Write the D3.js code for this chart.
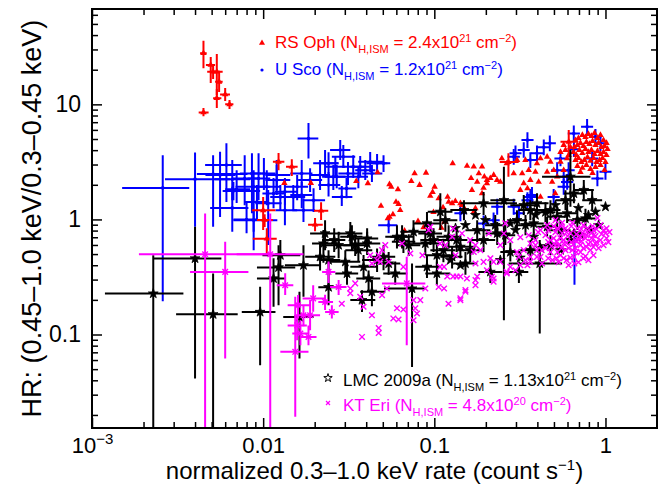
<!DOCTYPE html>
<html>
<head>
<meta charset="utf-8">
<script src="https://cdn.jsdelivr.net/npm/d3@7"></script>
<style>
  body { margin: 0; background: #fff; }
  svg { display: block; }
  text { font-family: "Liberation Sans", Arial, Helvetica, sans-serif; }
</style>
</head>
<body>
<svg id="chart" width="671" height="491"></svg>
<script>
// Axis ranges and labelled ticks
const xDomain = [0.001, 2];
const yDomain = [0.0154, 67.4];
const xMajor = [0.001, 0.01, 0.1, 1];
const xMajorLabels = ["10", "0.01", "0.1", "1"];
const yMajor = [0.1, 1, 10];
const yMajorLabels = ["0.1", "1", "10"];

// Legend
const legendNames = ["RS Oph", "U Sco", "LMC 2009a", "KT Eri"];
const legendNH = ["2.4", "1.2", "1.13", "4.8"];
const legendExp = ["21", "21", "21", "20"];
const colors = ["#ff0000", "#0000ff", "#000000", "#ff00ff"];

// Points with error bars: [rate, HR, rateLo, rateHi, hrLo, hrHi]
const rsOphBars = [
  [0.00448,27.8,0.00428,0.00468,20.6,35.7],
  [0.00494,22.0,0.00463,0.00524,15.3,25.8],
  [0.0051,19.2,0.00471,0.0056,16.6,22.4],
  [0.00536,19.2,0.00497,0.0058,12.05,27.4],
  [0.00553,15.7,0.00524,0.0058,12.8,19.1],
  [0.006,12.2,0.0056,0.0064,10.7,13.9],
  [0.00536,11.3,0.0051,0.0057,9.3,13.6],
  [0.00636,10.0,0.006,0.0067,9.1,10.9],
  [0.00448,8.5,0.0042,0.0048,7.9,9.3],
  [0.01,1.2,0.0086,0.0118,0.81,1.57],
  [0.0102,0.99,0.0092,0.0114,0.86,1.11],
  [0.0105,0.68,0.0087,0.012,0.50,0.84],
  [0.0123,3.17,0.0114,0.0133,2.68,3.77],
  [0.0147,2.87,0.0136,0.0159,2.38,3.34],
  [0.0201,0.90,0.0183,0.0223,0.79,1.03],
  [0.0218,1.19,0.0198,0.024,0.99,1.41],
  [0.271,3.15,0.241,0.311,2.35,3.75],
  [0.61,4.73,0.546,0.685,3.62,5.98]
];
// Points without error bars: [rate, HR]
const rsOphPts = [
  [0.0133,2.07],[0.0190,2.07],[0.0350,2.15],[0.0409,2.06],[0.0466,2.56],[0.0547,2.02],
  [0.0560,1.92],[0.0613,1.82],[0.0734,2.15],[0.0767,2.51],[0.0894,2.54],[0.0820,1.99],
  [0.1004,1.92],[0.0977,1.73],[0.0947,1.60],[0.106,1.52],[0.1196,1.57],[0.1213,1.42],
  [0.0488,1.31],[0.0597,1.42],[0.0618,1.36],[0.0632,1.205],[0.0547,1.05],[0.0573,1.105],
  [0.0535,1.02],[0.0803,0.966],[0.0989,1.157],[0.0865,0.852],[0.067,0.796],[0.1145,0.953],
  [0.110,0.845],[0.1125,1.27],[0.1327,1.44],[0.142,1.38],[0.1497,1.25],[0.1738,1.25],
  [0.170,1.16],[0.190,1.68],[0.178,2.12],[0.182,2.51],[0.196,2.35],[0.203,2.20],
  [0.2223,2.43],[0.2325,2.20],[0.243,2.12],[0.248,3.39],[0.265,3.07],[0.128,3.07],
  [0.1553,2.92],[0.170,2.87],[0.190,2.87],[0.2125,2.28],[0.203,2.06],[0.164,2.28],
  [0.166,1.80],[0.194,1.88],[0.127,1.38],[0.145,1.33],[0.291,2.51],[0.3045,3.28],
  [0.326,2.51],[0.3406,3.28],[0.356,2.68],[0.3896,2.59],[0.398,3.07],[0.417,3.39],
  [0.456,3.50],[0.477,3.17],[0.456,2.59],[0.4985,2.68],[0.35,1.86],[0.333,2.06],
  [0.364,2.20],[0.318,1.80],[0.407,2.12],[0.488,2.12],[0.522,2.35],[0.570,2.68],
  [0.546,3.17],[0.597,3.39],[0.417,1.57],[0.509,1.68],
  [0.668,4.89],[0.695,5.09],[0.733,5.41],[0.764,5.20],[0.795,5.52],[0.828,5.30],
  [0.863,5.63],[0.898,5.09],[0.935,5.41],[0.974,4.89],[1.014,4.61],[0.658,4.25],
  [0.685,4.43],[0.714,4.61],[0.743,4.34],[0.774,4.70],[0.806,4.52],[0.840,4.80],
  [0.874,4.43],[0.911,4.61],[0.948,4.25],[0.987,4.34],[1.028,4.09],[0.650,3.85],
  [0.676,3.62],[0.704,4.01],[0.733,3.77],[0.764,4.09],[0.795,3.85],[0.828,4.01],
  [0.863,3.70],[0.898,3.93],[0.935,3.70],[0.974,3.85],[1.014,3.62],[0.668,3.28],
  [0.695,3.41],[0.723,3.15],[0.753,3.28],[0.785,3.48],[0.817,3.22],[0.851,3.41],
  [0.886,3.15],[0.923,3.28],[0.961,3.41],[1.0,3.15],[0.685,2.91],[0.733,2.80],
  [0.774,2.97],[0.817,2.74],[0.874,2.85],[0.935,2.97],[0.987,2.68],[0.714,2.58],
  [0.840,2.53],[0.584,4.01],[0.609,3.62],[0.624,4.25],[0.546,3.85],[0.570,4.43]
];

const uScoBars = [
  [0.00259,1.88,0.0015,0.0037,0.195,3.62],
  [0.004,2.24,0.00267,0.0064,0.862,3.82],
  [0.0061,2.97,0.00458,0.0075,1.42,4.6],
  [0.0051,2.48,0.0041,0.0081,0.862,3.62],
  [0.0056,2.43,0.0046,0.0069,1.05,3.87],
  [0.0066,2.23,0.0052,0.0084,1.47,3.28],
  [0.0070,1.83,0.006,0.0084,1.39,2.68],
  [0.0066,1.26,0.0049,0.0082,0.78,1.92],
  [0.0078,2.27,0.0066,0.0093,1.33,3.62],
  [0.0080,1.0,0.0067,0.0092,0.76,1.42],
  [0.0086,2.51,0.0073,0.0098,1.13,3.75],
  [0.0088,1.92,0.0069,0.011,0.54,2.68],
  [0.0092,1.42,0.0078,0.0106,1.01,1.99],
  [0.0094,2.27,0.0081,0.011,1.47,3.75],
  [0.0101,2.51,0.0084,0.0118,1.80,3.41],
  [0.0105,1.92,0.009,0.0126,1.33,2.68],
  [0.0107,1.38,0.009,0.0128,0.60,1.80],
  [0.0115,1.68,0.0099,0.0134,1.25,2.29],
  [0.012,2.43,0.0103,0.0144,1.80,3.28],
  [0.0088,0.986,0.0067,0.0121,0.78,1.2],
  [0.0067,1.77,0.0058,0.0096,1.47,2.11],
  [0.0134,1.74,0.0117,0.0158,1.33,2.29],
  [0.0150,1.57,0.0129,0.0176,1.2,1.99],
  [0.0168,1.63,0.0144,0.0194,1.25,2.11],
  [0.0184,5.05,0.0159,0.021,3.39,6.9],
  [0.0241,3.07,0.0211,0.0276,2.43,3.83],
  [0.0257,2.35,0.0221,0.0302,1.80,2.97],
  [0.012,2.20,0.0103,0.0144,1.63,2.97],
  [0.0126,1.57,0.011,0.0144,1.2,1.99],
  [0.0134,1.2,0.0118,0.0158,0.89,1.63],
  [0.0168,2.51,0.0144,0.0194,1.91,3.28],
  [0.0158,1.92,0.0134,0.0183,1.47,2.43],
  [0.0188,2.20,0.016,0.0221,1.73,2.79],
  [0.0197,1.47,0.017,0.023,1.16,1.87],
  [0.0172,1.2,0.0148,0.0201,0.95,1.53],
  [0.0215,2.43,0.0188,0.0246,1.80,3.28],
  [0.023,3.07,0.0196,0.0275,2.33,4.01],
  [0.0241,1.99,0.021,0.0282,1.58,2.58],
  [0.0269,2.35,0.023,0.0314,1.87,2.97],
  [0.0282,4.01,0.0246,0.0323,3.28,4.89],
  [0.0294,3.50,0.0252,0.0345,2.80,4.43],
  [0.0313,2.51,0.0275,0.0369,1.99,3.15],
  [0.0336,2.87,0.0289,0.0395,2.29,3.62],
  [0.0360,2.35,0.0313,0.041,1.87,2.91],
  [0.0395,2.68,0.0345,0.0452,2.2,3.28],
  [0.0422,3.17,0.0359,0.0503,2.58,3.85],
  [0.0463,3.07,0.0402,0.0532,2.53,3.70],
  [0.0505,3.07,0.0434,0.0553,2.58,3.62],
  [0.0432,2.51,0.0379,0.0497,2.11,2.97],
  [0.0307,1.86,0.0275,0.035,1.53,2.29],
  [0.0288,1.57,0.0252,0.0332,1.31,1.95],
  [0.0541,0.892,0.047,0.0608,0.76,1.05],
  [0.0369,2.87,0.0323,0.0422,2.33,3.55],
  [0.0264,2.87,0.023,0.0302,2.29,3.55],
  [0.298,3.75,0.275,0.323,3.2,4.39],
  [0.333,4.01,0.307,0.361,3.43,4.69],
  [0.350,4.89,0.323,0.38,4.18,5.72],
  [0.398,3.75,0.367,0.432,3.2,4.39],
  [0.436,4.24,0.402,0.473,3.62,4.96],
  [0.473,4.59,0.436,0.513,3.92,5.37],
  [0.522,2.68,0.481,0.566,2.29,3.14],
  [0.570,2.35,0.525,0.618,2.01,2.75],
  [0.653,5.59,0.602,0.709,4.78,6.54],
  [0.781,6.38,0.72,0.847,5.45,7.46],
  [0.874,5.23,0.806,0.948,4.47,6.12],
  [0.935,4.59,0.862,1.014,3.92,5.37],
  [1.0,2.59,0.922,1.085,2.21,3.03],
  [0.836,3.39,0.771,0.907,2.9,3.97],
  [0.570,1.92,0.525,0.618,1.64,2.25],
  [0.597,2.12,0.55,0.648,1.81,2.48],
  [0.372,1.63,0.343,0.404,1.39,1.91],
  [0.350,1.47,0.323,0.38,1.26,1.72],
  [0.498,1.57,0.459,0.54,1.34,1.84],
  [0.291,3.50,0.268,0.316,2.99,4.1],
  [0.364,3.28,0.335,0.395,2.8,3.84],
  [0.897,2.27,0.827,0.973,1.94,2.66],
  [0.546,3.39,0.503,0.592,2.9,3.97],
  [0.609,2.68,0.561,0.661,2.29,3.14],
  [0.654,4.08,0.603,0.71,3.49,4.77],
  [0.142,1.13,0.131,0.154,0.966,1.32],
  [0.233,1.29,0.215,0.253,1.1,1.51],
  [0.291,1.29,0.268,0.316,1.1,1.51],
  [0.312,1.13,0.288,0.339,0.966,1.32],
  [0.222,0.986,0.205,0.241,0.843,1.15],
  [0.364,1.57,0.335,0.395,1.34,1.84],
  [0.194,0.924,0.179,0.21,0.79,1.08],
  [0.659,0.661,0.607,0.715,0.27,0.78]
];

const lmcBars = [
  [0.00228,0.227,0.00119,0.00342,0.005,0.489],
  [0.004,0.458,0.00228,0.0057,0.0414,0.862],
  [0.0051,0.150,0.0031,0.0071,0.005,0.339],
  [0.0096,0.157,0.0075,0.0118,0.054,0.26],
  [0.0115,0.307,0.0092,0.0134,0.174,0.46],
  [0.0123,0.383,0.0092,0.0154,0.18,0.598],
  [0.0172,0.40,0.0134,0.0215,0.213,0.598],
  [0.0163,0.142,0.0131,0.0197,0.062,0.235],
  [0.023,0.756,0.0188,0.0282,0.54,0.986],
  [0.026,0.661,0.0221,0.0302,0.52,0.84],
  [0.0215,0.473,0.0176,0.0264,0.36,0.63],
  [0.0241,0.443,0.0211,0.0282,0.35,0.54],
  [0.0241,0.258,0.021,0.0282,0.18,0.36],
  [0.0126,0.489,0.0099,0.0165,0.36,0.661],
  [0.0225,0.618,0.0193,0.0269,0.42,0.81],
  [0.0276,0.598,0.023,0.033,0.46,0.78],
  [0.0302,0.428,0.0246,0.0369,0.33,0.54],
  [0.0309,0.339,0.0264,0.0359,0.27,0.43],
  [0.0330,0.706,0.0282,0.038,0.54,0.89],
  [0.0360,0.541,0.0302,0.0434,0.43,0.69],
  [0.0386,0.387,0.0323,0.0465,0.30,0.49],
  [0.0405,0.618,0.0329,0.0483,0.49,0.78],
  [0.0413,0.307,0.035,0.0483,0.243,0.36],
  [0.0463,0.443,0.0378,0.0553,0.35,0.56],
  [0.0505,0.473,0.0422,0.0591,0.362,0.598],
  [0.0541,0.414,0.046,0.0633,0.33,0.52],
  [0.0432,0.235,0.0369,0.0517,0.176,0.297],
  [0.0378,0.199,0.0323,0.0452,0.157,0.243],
  [0.0591,0.339,0.0503,0.0695,0.27,0.43],
  [0.0648,0.706,0.0553,0.0758,0.56,0.89],
  [0.0741,0.251,0.0508,0.0886,0.0523,0.414],
  [0.0886,0.618,0.0749,0.1084,0.49,0.78],
  [0.099,0.661,0.0828,0.119,0.52,0.84],
  [0.1035,0.489,0.0886,0.124,0.40,0.60],
  [0.113,0.541,0.0948,0.1327,0.425,0.68],
  [0.127,0.473,0.1084,0.146,0.375,0.585],
  [0.142,0.578,0.116,0.174,0.46,0.73],
  [0.1035,0.339,0.0886,0.124,0.27,0.43],
  [0.0906,0.387,0.0774,0.1084,0.31,0.49],
  [0.0709,0.598,0.0602,0.0828,0.48,0.745],
  [0.0323,0.756,0.0275,0.038,0.60,0.95],
  [0.0345,0.598,0.0294,0.0405,0.48,0.745],
  [0.0405,0.683,0.0345,0.047,0.54,0.84],
  [0.066,0.639,0.0565,0.0774,0.51,0.81],
  [0.0756,0.78,0.0633,0.0911,0.62,0.986],
  [0.0605,0.706,0.0517,0.0706,0.56,0.89],
  [0.0906,0.924,0.0759,0.1084,0.73,1.16],
  [0.0948,0.756,0.0806,0.111,0.60,0.95],
  [0.1084,1.165,0.0915,0.1276,0.81,1.69],
  [0.116,0.986,0.0986,0.1363,0.78,1.25],
  [0.1212,0.706,0.103,0.142,0.56,0.89],
  [0.255,1.47,0.2126,0.2977,0.133,2.87],
  [0.333,1.33,0.278,0.39,1.09,1.63],
  [0.364,1.205,0.31,0.428,0.986,1.47],
  [0.398,1.38,0.341,0.465,1.09,1.69],
  [0.194,1.38,0.142,0.304,1.09,1.73],
  [0.149,1.205,0.124,0.178,0.986,1.47],
  [0.624,2.35,0.426,0.817,1.29,4.01],
  [0.413,0.414,0.272,0.558,0.102,0.661],
  [0.312,0.35,0.272,0.354,0.28,0.43],
  [0.2125,0.35,0.181,0.25,0.28,0.44],
  [0.135,0.661,0.116,0.156,0.52,0.81],
  [0.162,0.541,0.138,0.19,0.425,0.66],
  [0.194,0.661,0.162,0.227,0.52,0.84],
  [0.152,0.414,0.129,0.178,0.33,0.52],
  [0.178,0.807,0.152,0.2126,0.635,0.986],
  [0.233,0.756,0.199,0.278,0.60,0.95],
  [0.747,1.80,0.653,0.855,1.48,2.2],
  [0.836,1.47,0.731,0.956,1.2,1.79],
  [0.654,1.68,0.572,0.748,1.38,2.05],
  [0.477,1.205,0.417,0.546,0.99,1.47],
  [0.522,1.053,0.456,0.597,0.86,1.28],
  [0.597,1.13,0.522,0.683,0.93,1.38],
  [0.685,0.986,0.599,0.784,0.81,1.2],
  [0.764,1.02,0.668,0.874,0.84,1.24],
  [0.304,0.986,0.266,0.348,0.81,1.2],
  [0.381,0.924,0.333,0.436,0.76,1.13],
  [0.456,0.862,0.399,0.522,0.71,1.05],
  [0.546,0.807,0.477,0.625,0.66,0.98],
  [0.446,1.157,0.39,0.51,0.95,1.41],
  [0.584,1.47,0.51,0.668,1.2,1.79],
  [0.341,0.892,0.298,0.39,0.73,1.09],
  [0.260,0.730,0.227,0.297,0.6,0.89],
  [0.227,0.892,0.198,0.26,0.73,1.09],
  [0.278,0.52,0.243,0.318,0.43,0.63],
  [0.364,0.541,0.318,0.416,0.44,0.66],
  [0.477,0.598,0.417,0.546,0.49,0.73]
];
const lmcPts = [
  [0.874,1.165],[1.0,1.29],[0.278,0.924],[0.654,0.756],[0.381,0.706],
  [0.795,1.09],[0.695,1.255],[0.510,1.33],[0.390,1.09],
  [0.298,0.807],[0.199,0.986],[0.174,1.09],
  [0.152,0.892],[0.133,0.84],[0.124,0.443],[0.142,0.40],[0.243,0.443],
  [0.318,0.465],[0.417,0.563],[0.546,0.541],[0.624,0.661],
  [0.714,0.730],[0.817,0.807],[0.911,0.892]
];

const ktEriBars = [
  [0.00458,0.499,0.00188,0.011,0.005,1.128],
  [0.011,0.499,0.0070,0.0172,0.005,1.128],
  [0.006,0.35,0.00374,0.0082,0.0618,0.639],
  [0.01345,0.268,0.012,0.015,0.22,0.34],
  [0.0154,0.0707,0.0126,0.0184,0.0193,0.213],
  [0.016,0.18,0.0139,0.0188,0.138,0.22],
  [0.0196,0.206,0.017,0.023,0.158,0.268],
  [0.0188,0.147,0.0165,0.0215,0.109,0.199],
  [0.0172,0.147,0.0154,0.0193,0.118,0.18],
  [0.0158,0.12,0.0139,0.018,0.089,0.145],
  [0.0165,0.102,0.0148,0.0184,0.0807,0.133],
  [0.0184,0.0953,0.0165,0.0205,0.0807,0.12],
  [0.0241,0.35,0.0221,0.0264,0.28,0.43],
  [0.0276,0.259,0.0246,0.0307,0.22,0.297],
  [0.023,0.192,0.021,0.0256,0.163,0.222],
  [0.0252,0.157,0.023,0.0276,0.138,0.18],
  [0.069,0.278,0.0495,0.0886,0.0807,0.473]
];
const ktEriPts = [
  [0.0288,0.185],[0.0323,0.228],[0.0345,0.278],[0.0369,0.213],[0.0386,0.174],[0.0378,0.0953],
  [0.0432,0.147],[0.0473,0.114],[0.0473,0.103],[0.0473,0.489],[0.0483,0.428],[0.0495,0.541],
  [0.0528,0.251],[0.0495,0.22],[0.0605,0.169],[0.0576,0.138],[0.0618,0.135],[0.0659,0.165],
  [0.0756,0.199],[0.0828,0.199],[0.0774,0.169],[0.0792,0.152],[0.0756,0.133],[0.0886,0.251],
  [0.106,0.259],[0.114,0.251],[0.121,0.185],[0.142,0.206],[0.152,0.243],[0.108,0.387],
  [0.119,0.319],[0.129,0.319],[0.0724,0.506],[0.0852,0.489],[0.0648,0.618],[0.0659,0.387],
  [0.0422,0.489],[0.0463,0.443],[0.108,0.618],[0.127,0.706],[0.0323,0.251],[0.174,0.268],
  [0.142,0.319],[0.155,0.307],[0.203,0.362],[0.222,0.307],[0.265,0.339],[0.278,0.387],
  [0.341,0.443],[0.364,0.428],[0.398,0.473],[0.426,0.414],[0.304,0.522],[0.570,0.618],
  [0.142,0.199],[0.152,0.235],[0.174,0.297],[0.135,0.319],[0.178,0.319],[0.222,0.288],
  [0.217,0.319],[0.174,0.414],[0.194,0.428],[0.170,0.522],[0.174,0.598],[0.222,0.428],
  [0.260,0.924],[0.356,0.730],[0.456,0.892],[0.265,0.35],[0.298,0.362],[0.318,0.40],
  [0.350,0.40],[0.364,0.473],[0.312,0.473],[0.333,0.541],[0.364,0.618],[0.417,0.473],
  [0.398,0.541],[0.976,0.807],[0.874,0.618],[0.852,0.730],[0.654,0.473],[0.852,0.807],
  [0.781,0.78],[0.714,0.706],[0.0926,0.807],[0.0948,0.862],[0.129,0.835],[0.145,0.756],
  [0.208,0.756],[0.255,0.756],[0.0432,0.414],[0.0517,0.598],[0.0541,0.428],[0.114,0.387],
  [0.417,0.807],[0.446,0.730],[0.477,0.661],[0.510,0.776],[0.546,0.687],[0.584,0.839],
  [0.624,0.760],[0.668,0.661],[0.714,0.598],[0.764,0.687],[0.817,0.635],[0.874,0.716],
  [0.935,0.661],[1.0,0.760],[0.446,0.563],[0.477,0.52],[0.510,0.598],[0.546,0.489],
  [0.584,0.541],[0.624,0.465],[0.668,0.563],[0.714,0.52],[0.764,0.479],[0.817,0.541],
  [0.911,0.563],[0.49,0.443],[0.532,0.425],[0.570,0.46],[0.609,0.40],[0.695,0.425],
  [0.795,0.443],[0.463,0.635],[0.524,0.839],[0.60,0.716],[0.685,0.839],[0.743,0.892],
  [0.840,0.874],[0.640,0.935],[0.558,0.935],[0.510,0.986],[0.935,0.892],[0.898,1.03],
  [1.014,0.839],[0.498,0.687],[0.532,0.598],[0.570,0.661],[0.609,0.563],[0.650,0.61],
  [0.695,0.661],[0.743,0.563],[0.795,0.61],[0.851,0.575],[0.640,0.541],[0.593,0.623],
  [0.733,0.760],[0.785,0.839],[0.558,0.760],[0.524,0.52],
  [0.116,0.598],[0.133,0.489],[0.162,0.661],[0.186,0.541],[0.243,0.598],[0.278,0.661],
  [0.318,0.70],[0.39,0.598],[0.243,0.428],[0.2126,0.46],
  [0.463,0.807],[0.498,0.874],[0.553,0.874],[0.593,0.776],[0.632,0.874],[0.676,0.745],
  [0.723,0.823],[0.774,0.730],[0.828,0.760],[0.886,0.823],[0.948,0.745],[1.014,0.687],
  [1.055,0.776],[0.484,0.586],[0.517,0.648],[0.553,0.563],[0.632,0.635],[0.676,0.52],
  [0.723,0.648],[0.774,0.575],[0.828,0.687],[0.886,0.635],[0.974,0.598],[1.04,0.635],
  [0.517,0.46],[0.593,0.443],[0.658,0.414],[0.743,0.46],[0.851,0.489],[0.463,0.46],
  [0.424,0.541],[0.39,0.661],[0.404,0.776]
];

// ---- layout ----
const svg = d3.select("#chart");
const plot = { left: 92, top: 9, right: 657, bottom: 428 };
const x = d3.scaleLog().domain(xDomain).range([plot.left, plot.right]);
const y = d3.scaleLog().domain(yDomain).range([plot.bottom, plot.top]);

svg.append("rect").attr("width", 671).attr("height", 491).attr("fill", "#fff");

svg.append("defs").append("clipPath").attr("id", "plotClip")
  .append("rect").attr("x", plot.left).attr("y", plot.top)
  .attr("width", plot.right - plot.left).attr("height", plot.bottom - plot.top);

// ---- axes: inward ticks on all four sides ----
const xMinor = x.ticks().filter(v => !xMajor.some(m => Math.abs(m - v) / m < 1e-6) && v < xDomain[1]);
const yMinor = y.ticks().filter(v => !yMajor.some(m => Math.abs(m - v) / m < 1e-6));

function styleAxis(g) {
  g.select(".domain").remove();
  g.selectAll(".tick line").attr("stroke", "#000").attr("stroke-width", 1.5);
}

// bottom
const gxb = svg.append("g").attr("transform", `translate(0,${plot.bottom})`)
  .call(d3.axisBottom(x).tickValues(xMajor).tickSize(-10).tickPadding(9)
    .tickFormat((d, i) => xMajorLabels[i]));
styleAxis(gxb);
gxb.selectAll("text").attr("font-size", 22).attr("fill", "#000")
  .attr("font-family", "Liberation Sans, Arial, Helvetica, sans-serif");
// exponent on the first label
gxb.selectAll(".tick text").filter((d, i) => i === 0).each(function () {
  const t = d3.select(this);
  t.text(null);
  t.append("tspan").text("10");
  t.append("tspan").attr("font-size", 15).attr("dy", "-0.55em").text("\u22123");
});
svg.append("g").attr("transform", `translate(0,${plot.bottom})`)
  .call(d3.axisBottom(x).tickValues(xMinor).tickSize(-6).tickFormat(""))
  .call(styleAxis);

// top
svg.append("g").attr("transform", `translate(0,${plot.top})`)
  .call(d3.axisTop(x).tickValues(xMajor).tickSize(-10).tickFormat(""))
  .call(styleAxis);
svg.append("g").attr("transform", `translate(0,${plot.top})`)
  .call(d3.axisTop(x).tickValues(xMinor).tickSize(-6).tickFormat(""))
  .call(styleAxis);

// left
const gyl = svg.append("g").attr("transform", `translate(${plot.left},0)`)
  .call(d3.axisLeft(y).tickValues(yMajor).tickSize(-10).tickPadding(11)
    .tickFormat((d, i) => yMajorLabels[i]));
styleAxis(gyl);
gyl.selectAll("text").attr("font-size", 23).attr("fill", "#000")
  .attr("font-family", "Liberation Sans, Arial, Helvetica, sans-serif");
svg.append("g").attr("transform", `translate(${plot.left},0)`)
  .call(d3.axisLeft(y).tickValues(yMinor).tickSize(-6).tickFormat(""))
  .call(styleAxis);

// right
svg.append("g").attr("transform", `translate(${plot.right},0)`)
  .call(d3.axisRight(y).tickValues(yMajor).tickSize(-10).tickFormat(""))
  .call(styleAxis);
svg.append("g").attr("transform", `translate(${plot.right},0)`)
  .call(d3.axisRight(y).tickValues(yMinor).tickSize(-6).tickFormat(""))
  .call(styleAxis);

// ---- data layers ----
const layer = svg.append("g").attr("clip-path", "url(#plotClip)");

function drawBars(data, color) {
  layer.append("g").selectAll("path").data(data).join("path")
    .attr("d", d => `M${x(d[2])},${y(d[1])}H${x(d[3])}M${x(d[0])},${y(d[4])}V${y(d[5])}`)
    .attr("fill", "none").attr("stroke", color).attr("stroke-width", 2);
}

const triPath = d3.symbol(d3.symbolTriangle, 18)();
const starPath = d3.symbol(d3.symbolStar, 30)();
const timesPath = d3.symbol(d3.symbolTimes, 22)();

function drawMarks(data, kind, color) {
  const g = layer.append("g");
  const sel = g.selectAll("path").data(data).join("path")
    .attr("transform", d => `translate(${x(d[0])},${y(d[1])})`);
  if (kind === "tri") sel.attr("d", triPath).attr("fill", color);
  if (kind === "star") sel.attr("d", starPath).attr("fill", color).attr("stroke", color).attr("stroke-width", 0.8);
  if (kind === "times") sel.attr("d", timesPath).attr("fill", "none").attr("stroke", color).attr("stroke-width", 1.4);
  if (kind === "dot") sel.attr("d", d3.symbol(d3.symbolCircle, 10)()).attr("fill", color);
}

// U Sco
drawBars(uScoBars, colors[1]);
drawMarks(uScoBars, "dot", colors[1]);
// RS Oph
drawBars(rsOphBars, colors[0]);
drawMarks(rsOphBars, "tri", colors[0]);
drawMarks(rsOphPts, "tri", colors[0]);
// LMC 2009a
drawBars(lmcBars, colors[2]);
drawMarks(lmcBars, "star", colors[2]);
drawMarks(lmcPts, "star", colors[2]);
// KT Eri
drawBars(ktEriBars, colors[3]);
drawMarks(ktEriBars, "times", colors[3]);
drawMarks(ktEriPts, "times", colors[3]);

// frame
svg.append("rect").attr("x", plot.left).attr("y", plot.top)
  .attr("width", plot.right - plot.left).attr("height", plot.bottom - plot.top)
  .attr("fill", "none").attr("stroke", "#000").attr("stroke-width", 2);

// ---- axis titles ----
const xt = svg.append("text").attr("x", (plot.left + plot.right) / 2).attr("y", 479)
  .attr("text-anchor", "middle").attr("font-size", 24).attr("fill", "#000");
xt.append("tspan").text("normalized 0.3\u20131.0 keV rate (count s");
xt.append("tspan").attr("font-size", 15).attr("dy", -9).text("\u22121");
xt.append("tspan").attr("dy", 9).text(")");

svg.append("text")
  .attr("transform", `translate(41,${(plot.top + plot.bottom) / 2}) rotate(-90)`)
  .attr("text-anchor", "middle").attr("font-size", 27).attr("fill", "#000")
  .text("HR: (0.45\u20131.0 keV/0.3\u20130.45 keV)");

// ---- legend ----
const legendPos = [
  { mx: 262, my: 43, tx: 275, ty: 47.5 },
  { mx: 262, my: 70, tx: 275, ty: 75 },
  { mx: 328, my: 378, tx: 343, ty: 386 },
  { mx: 328, my: 403, tx: 343, ty: 410.5 }
];
const legendMarks = [
  d3.symbol(d3.symbolTriangle, 16)(),
  d3.symbol(d3.symbolCircle, 8)(),
  d3.symbol(d3.symbolStar, 22)(),
  d3.symbol(d3.symbolTimes, 12)()
];
legendNames.forEach((name, i) => {
  const p = legendPos[i];
  const m = svg.append("path").attr("d", legendMarks[i])
    .attr("transform", `translate(${p.mx},${p.my})`);
  if (i === 0 || i === 1) m.attr("fill", colors[i]);
  if (i === 2) m.attr("fill", "none").attr("stroke", colors[i]).attr("stroke-width", 1);
  if (i === 3) m.attr("fill", "none").attr("stroke", colors[i]).attr("stroke-width", 1.2);

  const t = svg.append("text").attr("x", p.tx).attr("y", p.ty)
    .attr("font-size", 17).attr("fill", colors[i]);
  t.append("tspan").text(name + " (N");
  t.append("tspan").attr("font-size", 11).attr("dy", 5).text("H,ISM");
  t.append("tspan").attr("dy", -5).text(" = " + legendNH[i] + "x10");
  t.append("tspan").attr("font-size", 11).attr("dy", -6).text(legendExp[i]);
  t.append("tspan").attr("dy", 6).text(" cm");
  t.append("tspan").attr("font-size", 11).attr("dy", -6).text("\u22122");
  t.append("tspan").attr("dy", 6).text(")");
});
</script>
</body>
</html>
